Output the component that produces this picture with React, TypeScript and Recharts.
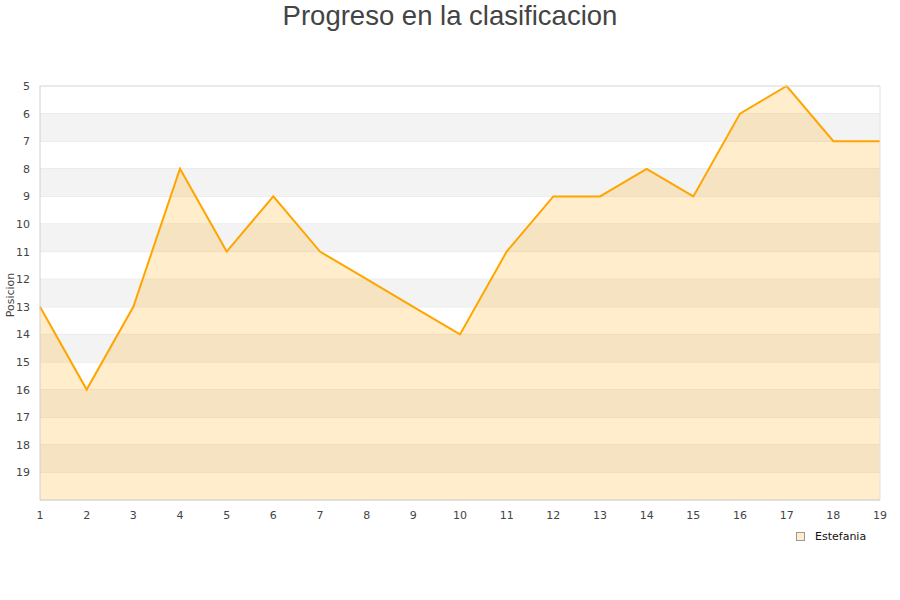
import { AreaChart, Area, XAxis, YAxis, CartesianGrid, ReferenceArea, ReferenceLine } from "recharts"

const jornadas = [1, 2, 3, 4, 5, 6, 7, 8, 9, 10, 11, 12, 13, 14, 15, 16, 17, 18, 19]
const posiciones = [13, 16, 13, 8, 11, 9, 11, 12, 13, 14, 11, 9, 9, 8, 9, 6, 5, 7, 7]
const yTicks = [5, 6, 7, 8, 9, 10, 11, 12, 13, 14, 15, 16, 17, 18, 19, 20]
const bandas = [6, 8, 10, 12, 14, 16, 18]

const data = jornadas.map((j, i) => ({ jornada: j, Estefania: posiciones[i] }))

const font = "DejaVu Sans, sans-serif"

export default function App() {
  return (
    <div style={{ position: "absolute", left: 0, top: 0, width: 900, height: 600, background: "#fff" }}>
      <div
        style={{
          position: "absolute",
          top: 0,
          width: 900,
          textAlign: "center",
          fontFamily: "Liberation Sans, Arial, sans-serif",
          fontSize: 27.5,
          color: "#444",
          lineHeight: "32px",
        }}
      >
        Progreso en la clasificacion
      </div>
      <AreaChart width={900} height={600} data={data} margin={{ top: 86, right: 20, bottom: 70, left: 0 }}>
        {bandas.map((b) => (
          <ReferenceArea key={b} y1={b} y2={b + 1} fill="#f3f3f3" fillOpacity={1} stroke="none" ifOverflow="visible" />
        ))}
        <CartesianGrid vertical={false} stroke="#e2e2e2" strokeDasharray="" />
        <XAxis
          dataKey="jornada"
          type="number"
          domain={[1, 19]}
          ticks={jornadas}
          tickLine={false}
          axisLine={{ stroke: "#d0d0d0" }}
          tick={{ fill: "#444", fontSize: 11, fontFamily: font }}
          tickMargin={5}
          height={30}
        />
        <YAxis
          reversed
          type="number"
          domain={[5, 20]}
          ticks={yTicks}
          interval={0}
          tickLine={false}
          axisLine={{ stroke: "#d0d0d0" }}
          tick={(props: any) =>
            props.payload.value === 20 ? <g /> : (
              <text x={props.x} y={props.y} dy={4} textAnchor="end" fill="#444" fontSize={11} fontFamily={font}>
                {props.payload.value}
              </text>
            )
          }
          tickMargin={4}
          width={40}
          label={{
            value: "Posicion",
            angle: -90,
            position: "insideLeft",
            offset: 10,
            dy: 2,
            fill: "#444",
            fontSize: 11,
            fontFamily: font,
            style: { textAnchor: "middle" },
          }}
        />
        <ReferenceLine x={19} stroke="#e2e2e2" />
        <ReferenceLine y={5} stroke="#e2e2e2" />
        <Area
          type="linear"
          dataKey="Estefania"
          stroke="#ffa500"
          strokeWidth={2}
          fill="#ffa500"
          fillOpacity={0.2}
          baseValue={20}
          dot={false}
          activeDot={false}
          isAnimationActive={false}
        />
      </AreaChart>
      <div
        style={{
          position: "absolute",
          left: 796,
          top: 530,
          display: "flex",
          alignItems: "center",
          fontFamily: font,
          fontSize: 11,
          color: "#111",
        }}
      >
        <span
          style={{
            display: "inline-block",
            width: 7,
            height: 7,
            background: "#ffeecc",
            border: "1px solid #999",
            marginRight: 10,
          }}
        />
        Estefania
      </div>
    </div>
  )
}
